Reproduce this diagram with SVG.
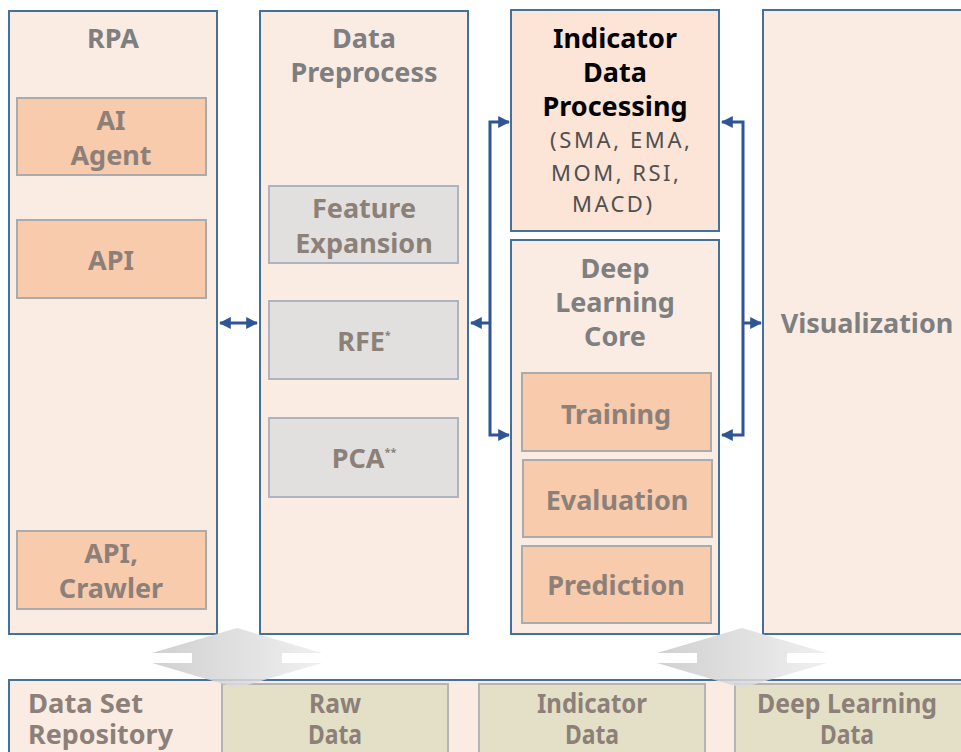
<svg xmlns="http://www.w3.org/2000/svg" width="961" height="752" viewBox="0 0 961 752">
<defs>
<style>
.col{fill:#FBECE3;stroke:#41719C;stroke-width:2}
.ind{fill:#FCE4D6;stroke:#41719C;stroke-width:2}
.org{fill:#F8CBAD;stroke:#ABABAB;stroke-width:2}
.gry{fill:#E1E0DF;stroke:#ADB4C0;stroke-width:2}
.grn{fill:#E4E0C7;stroke:#B4B4B4;stroke-width:2}
.t{font-family:"Noto Sans","Liberation Sans",sans-serif;font-weight:bold;font-size:27px;text-anchor:middle;fill:#7F7F7F}
.b{font-family:"Noto Sans","Liberation Sans",sans-serif;font-weight:bold;font-size:27px;text-anchor:middle;fill:#000000}
.s{font-family:"Noto Sans","Liberation Sans",sans-serif;font-size:22px;text-anchor:middle;fill:#505050}
.i{font-family:"Noto Sans","Liberation Sans",sans-serif;font-weight:bold;font-size:27px;text-anchor:middle;fill:#8C8079}
.sup{font-size:11px}
.r{font-family:"Noto Sans","Liberation Sans",sans-serif;font-weight:bold;font-size:26px;fill:#8C8079}
.c{fill:none;stroke:#2F5597;stroke-width:3}
</style>
<marker id="ah" viewBox="0 0 10 10" refX="9" refY="5" markerWidth="4" markerHeight="4.4" orient="auto-start-reverse" markerUnits="strokeWidth">
<path d="M0,0 L10,5 L0,10 z" fill="#2F5597"/>
</marker>
<linearGradient id="gg" x1="0" y1="0" x2="1" y2="0">
<stop offset="0" stop-color="#C8C8C8"/>
<stop offset="1" stop-color="#EDEDED"/>
</linearGradient>
</defs>
<rect width="961" height="752" fill="#FFFFFF"/>

<g id="rpa">
<rect class="col" x="9" y="11" width="208" height="623"/>
<text class="t" x="113" y="48">RPA</text>
</g>
<g id="ai-agent">
<rect class="org" x="17" y="98" width="189" height="77"/>
<text class="i" x="111" y="130">AI</text>
<text class="i" x="111" y="165">Agent</text>
</g>
<g id="api">
<rect class="org" x="17" y="220" width="189" height="78"/>
<text class="i" x="111" y="270">API</text>
</g>
<g id="api-crawler">
<rect class="org" x="17" y="531" width="189" height="78"/>
<text class="i" x="111" y="563">API,</text>
<text class="i" x="111" y="598">Crawler</text>
</g>

<g id="data-preprocess">
<rect class="col" x="260" y="11" width="208" height="623"/>
<text class="t" x="364" y="48">Data</text>
<text class="t" x="364" y="82">Preprocess</text>
</g>
<g id="feature-expansion">
<rect class="gry" x="269" y="186" width="189" height="77"/>
<text class="i" x="364" y="218">Feature</text>
<text class="i" x="364" y="253">Expansion</text>
</g>
<g id="rfe">
<rect class="gry" x="269" y="301" width="189" height="78"/>
<text class="i" x="364" y="351">RFE<tspan class="sup" dy="-12">*</tspan></text>
</g>
<g id="pca">
<rect class="gry" x="269" y="418" width="189" height="79"/>
<text class="i" x="364" y="468">PCA<tspan class="sup" dy="-12">**</tspan></text>
</g>

<g id="indicator-processing">
<rect class="ind" x="511" y="10" width="208" height="221"/>
<text class="b" x="615" y="48">Indicator</text>
<text class="b" x="615" y="82">Data</text>
<text class="b" x="615" y="116">Processing</text>
<text class="s" x="620" y="148" textLength="140" lengthAdjust="spacing">(SMA, EMA,</text>
<text class="s" x="615" y="181" textLength="128" lengthAdjust="spacing">MOM, RSI,</text>
<text class="s" x="612" y="212" textLength="80" lengthAdjust="spacing">MACD)</text>
</g>

<g id="deep-learning-core">
<rect class="col" x="511" y="240" width="208" height="394"/>
<text class="t" x="615" y="278">Deep</text>
<text class="t" x="615" y="312">Learning</text>
<text class="t" x="615" y="346">Core</text>
</g>
<g id="training">
<rect class="org" x="522" y="373" width="189" height="78"/>
<text class="i" x="616" y="424">Training</text>
</g>
<g id="evaluation">
<rect class="org" x="523" y="460" width="189" height="77"/>
<text class="i" x="617" y="510">Evaluation</text>
</g>
<g id="prediction">
<rect class="org" x="522" y="546" width="189" height="77"/>
<text class="i" x="616" y="595">Prediction</text>
</g>

<g id="visualization">
<rect class="col" x="763" y="10" width="210" height="624"/>
<text class="t" x="867" y="333">Visualization</text>
</g>

<g id="repository">
<rect class="col" x="9" y="680" width="964" height="80"/>
<text class="r" x="28" y="713" textLength="115" lengthAdjust="spacingAndGlyphs">Data Set</text>
<text class="r" x="28" y="744" textLength="145" lengthAdjust="spacingAndGlyphs">Repository</text>
</g>
<g id="raw-data">
<rect class="grn" x="222" y="684" width="226" height="76"/>
<text class="r" x="335" y="713" text-anchor="middle" textLength="52" lengthAdjust="spacingAndGlyphs">Raw</text>
<text class="r" x="335" y="744" text-anchor="middle" textLength="54" lengthAdjust="spacingAndGlyphs">Data</text>
</g>
<g id="indicator-data">
<rect class="grn" x="479" y="684" width="226" height="76"/>
<text class="r" x="592" y="713" text-anchor="middle" textLength="110" lengthAdjust="spacingAndGlyphs">Indicator</text>
<text class="r" x="592" y="744" text-anchor="middle" textLength="54" lengthAdjust="spacingAndGlyphs">Data</text>
</g>
<g id="deep-learning-data">
<rect class="grn" x="735" y="684" width="236" height="76"/>
<text class="r" x="847" y="713" text-anchor="middle" textLength="180" lengthAdjust="spacingAndGlyphs">Deep Learning</text>
<text class="r" x="847" y="744" text-anchor="middle" textLength="54" lengthAdjust="spacingAndGlyphs">Data</text>
</g>

<g id="connectors">
<line class="c" x1="220" y1="323" x2="257" y2="323" marker-start="url(#ah)" marker-end="url(#ah)"/>
<polyline class="c" points="509,122 490,122 490,435 509,435" marker-start="url(#ah)" marker-end="url(#ah)"/>
<line class="c" x1="490" y1="323" x2="471" y2="323" marker-end="url(#ah)"/>
<polyline class="c" points="722,122 743,122 743,435 722,435" marker-start="url(#ah)" marker-end="url(#ah)"/>
<line class="c" x1="743" y1="323" x2="761" y2="323" marker-end="url(#ah)"/>
<path d="M152,653 L237,628 L322,653 L282,653 L282,663 L322,663 L237,688 L152,663 L192,663 L192,653 z" fill="url(#gg)" opacity="0.85"/>
<path d="M657,653 L742,628 L827,653 L787,653 L787,663 L827,663 L742,688 L657,663 L697,663 L697,653 z" fill="url(#gg)" opacity="0.85"/>
</g>
</svg>
